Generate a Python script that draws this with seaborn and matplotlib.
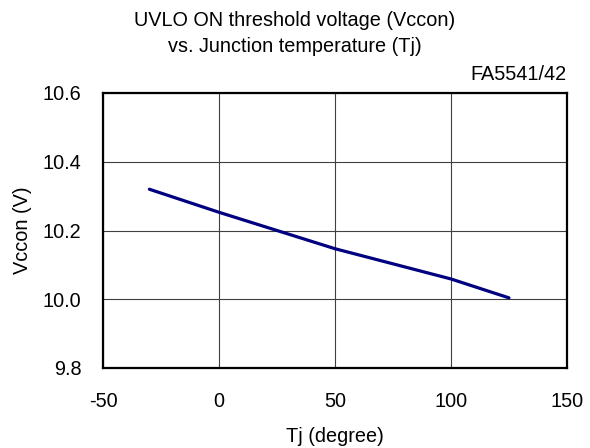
import matplotlib
matplotlib.use("Agg")
import matplotlib.pyplot as plt
import seaborn as sns
import pandas as pd

tj = [-30, 0, 25, 50, 100, 125]
vccon = [10.32, 10.253, 10.20, 10.147, 10.059, 10.004]
xticks = [-50, 0, 50, 100, 150]
yticks = [9.8, 10.0, 10.2, 10.4, 10.6]

sns.set_style("white")
plt.rcParams['font.family'] = ['Liberation Sans', 'DejaVu Sans']
plt.rcParams['text.color'] = 'black'
plt.rcParams['axes.labelcolor'] = 'black'
plt.rcParams['xtick.color'] = 'black'
plt.rcParams['ytick.color'] = 'black'

FS = 14.3
df = pd.DataFrame({"Tj": tj, "Vccon": vccon})
fig = plt.figure(figsize=(5.9, 4.48), dpi=100)
ax = fig.add_axes([103/590, 1-368/448, 464/590, 275/448])
sns.lineplot(data=df, x="Tj", y="Vccon", ax=ax, color="#000080", linewidth=2.3)
ax.set_xlim(-50, 150)
ax.set_ylim(9.8, 10.6)
ax.set_xticks(xticks)
ax.set_yticks(yticks)
ax.set_xticklabels([str(t) for t in xticks], fontsize=FS)
ax.set_yticklabels([f"{t:.1f}" for t in yticks], fontsize=FS)
ax.grid(True, color="#404040", linewidth=0.8)
ax.tick_params(axis="x", length=0, pad=17)
ax.tick_params(axis="y", length=0, pad=15.5)
for s in ax.spines.values():
    s.set_color("black")
    s.set_linewidth(1.6)
ax.set_xlabel("Tj (degree)", fontsize=FS, labelpad=12)
ax.set_ylabel("Vccon (V)", fontsize=FS, labelpad=8)
fig.text(295/590, 1-20/448, "UVLO ON threshold voltage (Vccon)", ha="center", va="center", fontsize=FS)
fig.text(295/590, 1-47/448, "vs. Junction temperature (Tj)", ha="center", va="center", fontsize=FS)
fig.text(566/590, 1-75/448, "FA5541/42", ha="right", va="center", fontsize=FS)
fig.savefig("out.png", dpi=100)
